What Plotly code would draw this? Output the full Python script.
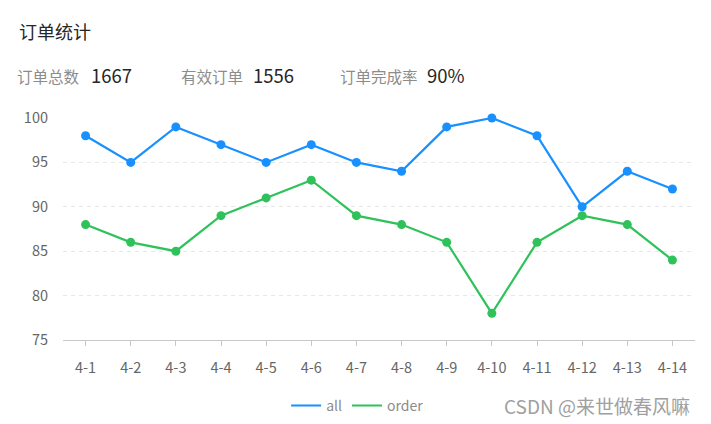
import plotly.graph_objects as go

categories = ["4-1", "4-2", "4-3", "4-4", "4-5", "4-6", "4-7", "4-8", "4-9", "4-10", "4-11", "4-12", "4-13", "4-14"]
all_values = [98, 95, 99, 97, 95, 97, 95, 94, 99, 100, 98, 90, 94, 92]
order_values = [88, 86, 85, 89, 91, 93, 89, 88, 86, 78, 86, 89, 88, 84]
series_names = ["all", "order"]
series_colors = ["#1890FF", "#2FC25B"]
stat_labels = ["订单总数", "有效订单", "订单完成率"]
stat_values = ["1667", "1556", "90%"]
title_text = "订单统计"
watermark = "CSDN @来世做春风嘛"

FONT = "Noto Sans CJK SC, Microsoft YaHei, sans-serif"

fig = go.Figure()
for name, vals, col in zip(series_names, [all_values, order_values], series_colors):
    fig.add_trace(go.Scatter(
        x=categories, y=vals, mode="lines+markers", name=name,
        line=dict(color=col, width=2.2),
        marker=dict(color=col, size=9),
        showlegend=False, hoverinfo="x+y+name", cliponaxis=False,
    ))
    # legend-only entry (line symbol)
    fig.add_trace(go.Scatter(
        x=[None], y=[None], mode="lines", name=name,
        line=dict(color=col, width=2), showlegend=True,
    ))

fig.update_layout(
    width=711, height=424,
    margin=dict(l=63, r=16, t=118, b=84, autoexpand=False),
    paper_bgcolor="white", plot_bgcolor="white",
    font=dict(family=FONT, size=14, color="#595959"),
    showlegend=True,
    legend=dict(
        orientation="h", xref="container", yref="container",
        x=0.503, xanchor="center", y=1 - 406 / 424, yanchor="middle",
        font=dict(size=14, color="#8c8c8c"), itemwidth=30,
        bgcolor="rgba(0,0,0,0)",
    ),
    xaxis=dict(
        type="category", range=[-0.5, 13.5],
        showline=True, linecolor="#c8c8c8", linewidth=1,
        ticks="outside", ticklen=5, tickcolor="#c8c8c8",
        showgrid=False, zeroline=False,
        tickfont=dict(size=14.5, color="#666666"),
        ticklabelstandoff=10,
    ),
    yaxis=dict(
        range=[75, 100], dtick=5, tick0=75,
        showgrid=True, gridcolor="#e6e6e6", griddash="4px,4px", gridwidth=1,
        zeroline=False, showline=False, ticks="",
        tickfont=dict(size=14.5, color="#666666"),
        ticklabelstandoff=14,
    ),
)

annotations = [
    dict(text=title_text, x=17, y=31, font=dict(size=18, color="#262626")),
    dict(text=watermark, x=502, y=405, font=dict(size=19, color="#a0a0a0")),
]
stat_label_x = [15, 179, 338]
stat_value_x = [89, 251, 425]
for lab, val, lx, vx in zip(stat_labels, stat_values, stat_label_x, stat_value_x):
    annotations.append(dict(text=lab, x=lx, y=76, font=dict(size=15.5, color="#8c8c8c")))
    annotations.append(dict(text=val, x=vx, y=75, font=dict(size=18.5, color="#262626")))

for a in annotations:
    fig.add_annotation(
        text=a["text"], xref="paper", yref="paper",
        x=(a["x"] - 63) / 632, y=(340 - a["y"]) / 222,
        xanchor="left", yanchor="middle", showarrow=False,
        font=dict(family=FONT, **a["font"]),
    )

fig.write_html("out.html")
